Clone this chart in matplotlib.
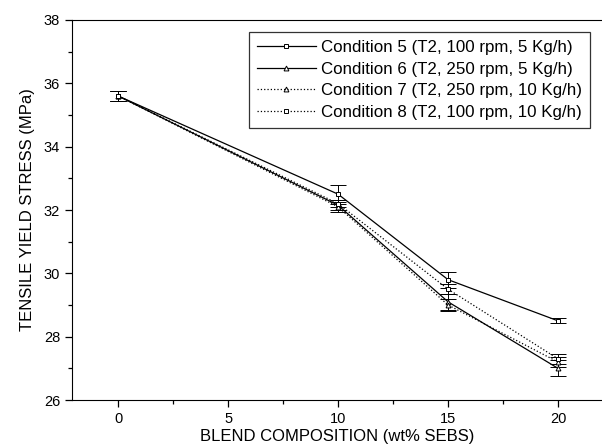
import numpy as np
import matplotlib.pyplot as plt
from matplotlib.ticker import MultipleLocator
from matplotlib.lines import Line2D

plt.rcParams['font.family'] = ['Liberation Sans', 'DejaVu Sans']

# blend composition (wt% SEBS)
sebs = [0, 10, 15, 20]

# tensile yield stress (MPa) per processing condition
cond5 = [35.6, 32.5, 29.8, 28.5]
cond6 = [35.6, 32.15, 29.1, 27.0]
cond7 = [35.6, 32.1, 29.0, 27.2]
cond8 = [35.6, 32.2, 29.5, 27.3]

err5 = [0.15, 0.3, 0.25, 0.08]
err6 = [0.15, 0.15, 0.25, 0.25]
err7 = [0.15, 0.15, 0.2, 0.15]
err8 = [0.15, 0.1, 0.15, 0.15]

labels = ["Condition 5 (T2, 100 rpm, 5 Kg/h)",
          "Condition 6 (T2, 250 rpm, 5 Kg/h)",
          "Condition 7 (T2, 250 rpm, 10 Kg/h)",
          "Condition 8 (T2, 100 rpm, 10 Kg/h)"]


def main():
    fig = plt.figure(figsize=(6.02, 4.47), dpi=100)
    ax = fig.add_axes([0.1196, 0.1051, 0.8804, 0.8502])

    series = [(cond5, err5, 's', '-'),
              (cond6, err6, '^', '-'),
              (cond7, err7, '^', ':'),
              (cond8, err8, 's', ':')]
    handles = []
    for (y, e, m, ls), lab in zip(series, labels):
        ax.errorbar(sebs, y, yerr=e, color='black', lw=0.9, ls=ls,
                    marker=m, ms=3.5, mfc='white', mec='black', mew=0.7,
                    capsize=6, elinewidth=0.7, capthick=0.7)
        handles.append(Line2D([], [], color='black', lw=0.9, ls=ls,
                              marker=m, ms=3.5, mfc='white', mec='black',
                              mew=0.7, label=lab))

    ax.set_xlim(-2.1, 22.0)
    ax.set_ylim(26, 38)
    ax.xaxis.set_major_locator(MultipleLocator(5))
    ax.xaxis.set_minor_locator(MultipleLocator(2.5))
    ax.yaxis.set_major_locator(MultipleLocator(2))
    ax.yaxis.set_minor_locator(MultipleLocator(1))
    ax.set_xticks([0, 5, 10, 15, 20])
    ax.tick_params(which='both', direction='out', labelsize=10.5, width=0.9)
    ax.tick_params(which='major', length=5)
    ax.tick_params(which='minor', length=3)
    ax.spines['right'].set_visible(False)

    ax.set_xlabel("BLEND COMPOSITION (wt% SEBS)", fontsize=12, labelpad=2)
    ax.set_ylabel("TENSILE YIELD STRESS (MPa)", fontsize=12, labelpad=6)

    leg = ax.legend(handles=handles, loc='upper right',
                    bbox_to_anchor=(0.977, 0.968),
                    fontsize=12.2, frameon=True, fancybox=False,
                    edgecolor='black', handlelength=3.5, handletextpad=0.3,
                    borderpad=0.45, labelspacing=0.4, borderaxespad=0)
    leg.get_frame().set_linewidth(0.9)

    fig.savefig("out.png", dpi=100)


main()
